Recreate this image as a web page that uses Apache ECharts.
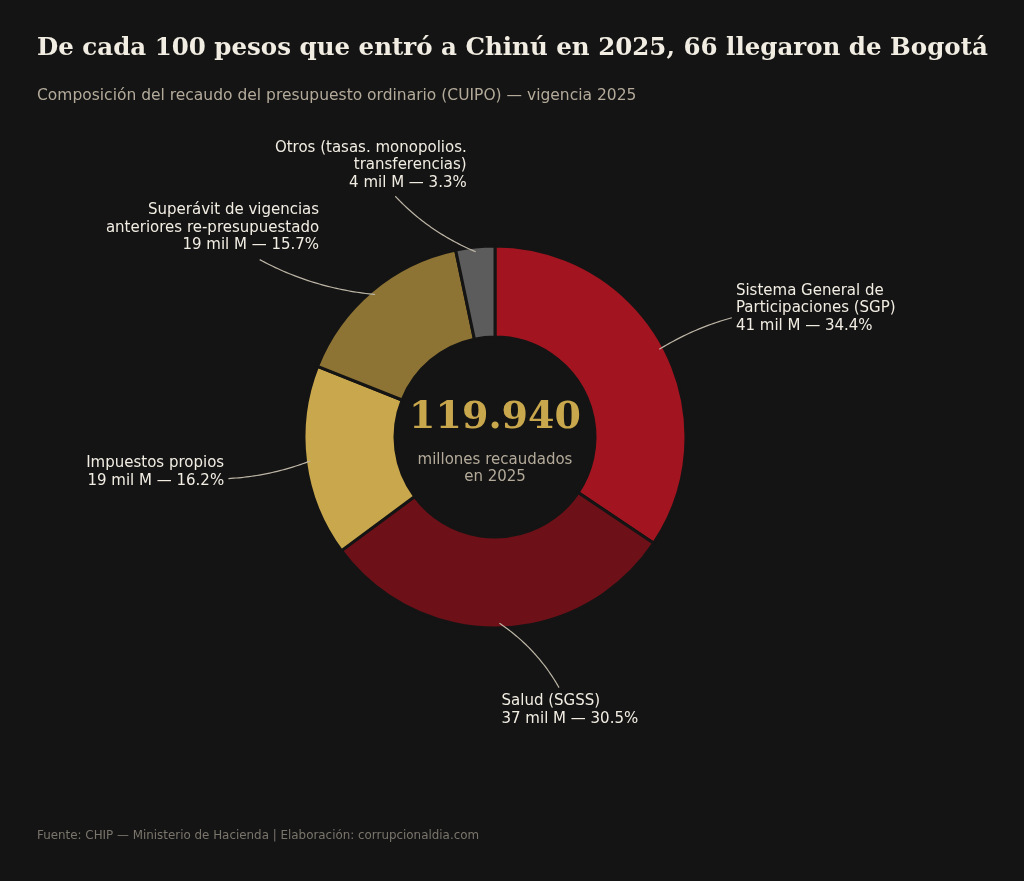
<!DOCTYPE html>
<html>
<head>
<meta charset="utf-8">
<script src="https://cdn.jsdelivr.net/npm/echarts@6/dist/echarts.min.js"></script>
<style>
  html, body { margin: 0; padding: 0; background: #141414; }
  #chart { width: 1024px; height: 881px; }
</style>
</head>
<body>
<div id="chart"></div>
<script>
// datos (millones de pesos, vigencia 2025)
var categorias = [
  'Sistema General de\nParticipaciones (SGP)',
  'Salud (SGSS)',
  'Impuestos propios',
  'Superávit de vigencias\nanteriores re-presupuestado',
  'Otros (tasas. monopolios.\ntransferencias)'
];
var valores = [41240, 36550, 19400, 18790, 3960];
var colores = ['#A2141F', '#6E1018', '#C9A74C', '#8E7434', '#5C5C5C'];

var titulo = 'De cada 100 pesos que entró a Chinú en 2025, 66 llegaron de Bogotá';
var subtitulo = 'Composición del recaudo del presupuesto ordinario (CUIPO) — vigencia 2025';
var fuente = 'Fuente: CHIP — Ministerio de Hacienda | Elaboración: corrupcionaldia.com';

// geometría del anillo
var CX = 495, CY = 437, R_OUT = 191, R_IN = 100;
var R_TXT = 1.43, R_START = 0.975, CURVA = 0.15, PAD = 4;

var total = valores.reduce(function (a, b) { return a + b; }, 0);

// ángulo medio de cada porción (horario desde las 12)
var acum = 0;
var medios = valores.map(function (v) {
  var m = (acum + v / 2) / total;
  acum += v;
  return m * 2 * Math.PI;
});

function fmtMiles(n) {
  return String(n).replace(/\B(?=(\d{3})+(?!\d))/g, '.');
}

// curva tipo arc3 desde el centro del texto hasta la porción, recortada en la caja
function curvaEtiqueta(a, b, caja) {
  var mx = (a[0] + b[0]) / 2, my = (a[1] + b[1]) / 2;
  var c = [mx - CURVA * (b[1] - a[1]), my + CURVA * (b[0] - a[0])];
  var pts = [];
  for (var i = 0; i <= 60; i++) {
    var t = i / 60, u = 1 - t;
    var x = u * u * a[0] + 2 * t * u * c[0] + t * t * b[0];
    var y = u * u * a[1] + 2 * t * u * c[1] + t * t * b[1];
    var dentro = x > caja.x - PAD && x < caja.x + caja.width + PAD &&
                 y > caja.y - PAD && y < caja.y + caja.height + PAD;
    if (!dentro) pts.push([x, y]);
  }
  return pts;
}

var guias = [];  // líneas guía, se llenan en labelLayout

var chart = echarts.init(document.getElementById('chart'));

var option = {
  backgroundColor: '#141414',
  animation: false,
  series: [{
    type: 'pie',
    center: [CX, CY],
    radius: [R_IN, R_OUT],
    startAngle: 90,
    clockwise: true,
    avoidLabelOverlap: false,
    itemStyle: {borderColor: '#141414', borderWidth: 3},
    label: {
      show: true,
      position: 'outside',
      color: '#F2EDE3',
      fontFamily: 'DejaVu Sans',
      fontSize: 15,
      lineHeight: 17.5,
      formatter: function (p) {
        var pct = (valores[p.dataIndex] / total * 100).toFixed(1);
        return p.name + '\n' + Math.round(p.value / 1000) + ' mil M — ' + pct + '%';
      }
    },
    labelLine: {show: false},
    labelLayout: function (p) {
      var ang = medios[p.dataIndex];
      var ux = Math.sin(ang), uy = -Math.cos(ang);
      var ax = CX + ux * R_OUT * R_TXT, ay = CY + uy * R_OUT * R_TXT;
      var derecha = ux >= 0;
      var w = p.labelRect.width, h = p.labelRect.height;
      var caja = {x: derecha ? ax : ax - w, y: ay - h / 2, width: w, height: h};
      var centro = [caja.x + w / 2, ay];
      var inicio = [CX + ux * R_OUT * R_START, CY + uy * R_OUT * R_START];
      guias[p.dataIndex] = curvaEtiqueta(centro, inicio, caja);
      return {
        x: ax,
        y: ay,
        align: derecha ? 'left' : 'right',
        verticalAlign: 'middle'
      };
    },
    data: categorias.map(function (c, i) {
      return {name: c, value: valores[i], itemStyle: {color: colores[i]}};
    })
  }]
};

chart.setOption(option);

// textos y líneas guía por encima del anillo
var textos = [
  {type: 'text', x: 37, y: 49,
    style: {text: titulo, fill: '#F2EDE3', font: 'bold 24.5px "DejaVu Serif"', textVerticalAlign: 'middle'}},
  {type: 'text', x: 37, y: 96,
    style: {text: subtitulo, fill: '#B3AA9A', font: '15.5px "DejaVu Sans"', textVerticalAlign: 'middle'}},
  {type: 'text', x: 37, y: 836,
    style: {text: fuente, fill: '#7A756C', font: '11.9px "DejaVu Sans"', textVerticalAlign: 'middle'}},
  {type: 'text', x: CX, y: 418, z: 10,
    style: {text: fmtMiles(total), fill: '#C9A74C', font: 'bold 38px "DejaVu Serif"',
      textAlign: 'center', textVerticalAlign: 'middle'}},
  {type: 'text', x: CX, y: 469, z: 10,
    style: {text: 'millones recaudados\nen 2025', fill: '#B3AA9A', font: '15px "DejaVu Sans"',
      lineHeight: 17, textAlign: 'center', textVerticalAlign: 'middle'}}
];
var lineas = guias.map(function (pts) {
  return {type: 'polyline', z: 10, shape: {points: pts},
    style: {stroke: '#BDB5A6', lineWidth: 1.2, fill: null}};
});

chart.setOption({graphic: textos.concat(lineas)});
</script>
</body>
</html>
